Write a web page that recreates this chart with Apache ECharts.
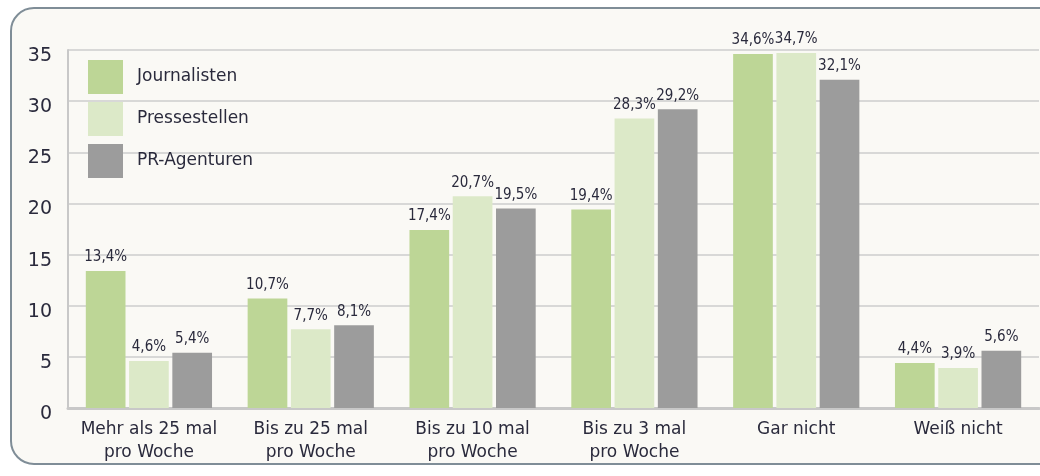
<!DOCTYPE html>
<html><head><meta charset="utf-8">
<script src="https://cdn.jsdelivr.net/npm/echarts@6/dist/echarts.min.js"></script>
<style>
html,body{margin:0;padding:0;background:#ffffff;overflow:hidden;}
#frame{position:absolute;left:10px;top:7px;width:1080px;height:454px;border:2px solid #7f8d97;border-radius:24px;background:#faf9f5;}
#chart{position:absolute;left:0;top:0;width:1040px;height:476px;}
</style></head>
<body>
<div id="frame"></div>
<div id="chart"></div>
<script>
const categories = ["Mehr als 25 mal\npro Woche", "Bis zu 25 mal\npro Woche", "Bis zu 10 mal\npro Woche", "Bis zu 3 mal\npro Woche", "Gar nicht", "Weiß nicht"];
const journalisten = [13.4, 10.7, 17.4, 19.4, 34.6, 4.4];
const pressestellen = [4.6, 7.7, 20.7, 28.3, 34.7, 3.9];
const agenturen = [5.4, 8.1, 19.5, 29.2, 32.1, 5.6];
const seriesNames = ["Journalisten", "Pressestellen", "PR-Agenturen"];
const yTicks = [0, 5, 10, 15, 20, 25, 30, 35];

const colors = ["#bdd696", "#dce9c8", "#9c9c9c"];
const mainFont = '"DejaVu Sans", sans-serif';
const chart = echarts.init(document.getElementById('chart'), null, {renderer: 'canvas'});
const labelCfg = {
  show: true, position: 'top', distance: 6,
  fontFamily: '"Liberation Sans Narrow","DejaVu Sans Condensed",sans-serif',
  fontSize: 15, color: '#2a2a3c',
  formatter: p => String(p.value).replace('.', ',') + '%'
};
function mk(name, data, color) {
  return {
    name, type: 'bar', data, barGap: '9%', barCategoryGap: '22%',
    itemStyle: {color}, label: labelCfg, emphasis: {disabled: true}
  };
}
chart.setOption({
  animation: false,
  textStyle: {fontFamily: mainFont},
  legend: {
    orient: 'vertical', left: 83, top: 55, itemWidth: 35, itemHeight: 34, itemGap: 8,
    icon: 'rect',
    textStyle: {fontSize: 17, color: '#2a2a3c', fontFamily: mainFont, padding: [2, 0, 0, 9]},
    data: seriesNames
  },
  grid: {left: 68, right: 1, top: 50, bottom: 68, containLabel: false},
  xAxis: {
    type: 'category', data: categories,
    axisLine: {lineStyle: {color: '#c8c8c8', width: 3}},
    axisTick: {show: false},
    axisLabel: {fontSize: 17, color: '#2a2a3c', lineHeight: 23, margin: 10, interval: 0, fontFamily: mainFont}
  },
  yAxis: {
    type: 'value', min: 0, max: 35, interval: 5,
    axisLine: {show: true, lineStyle: {color: '#c8c8c8', width: 2}},
    axisTick: {show: false},
    splitLine: {lineStyle: {color: '#cdcdcd', width: 1.5}},
    axisLabel: {fontSize: 19, color: '#2a2a3c', margin: 16, verticalAlign: 'top', lineHeight: 12, fontFamily: mainFont,
      formatter: v => yTicks.includes(v) ? String(v) : ''}
  },
  series: [
    mk(seriesNames[0], journalisten, colors[0]),
    mk(seriesNames[1], pressestellen, colors[1]),
    mk(seriesNames[2], agenturen, colors[2])
  ]
});
</script>
</body></html>
